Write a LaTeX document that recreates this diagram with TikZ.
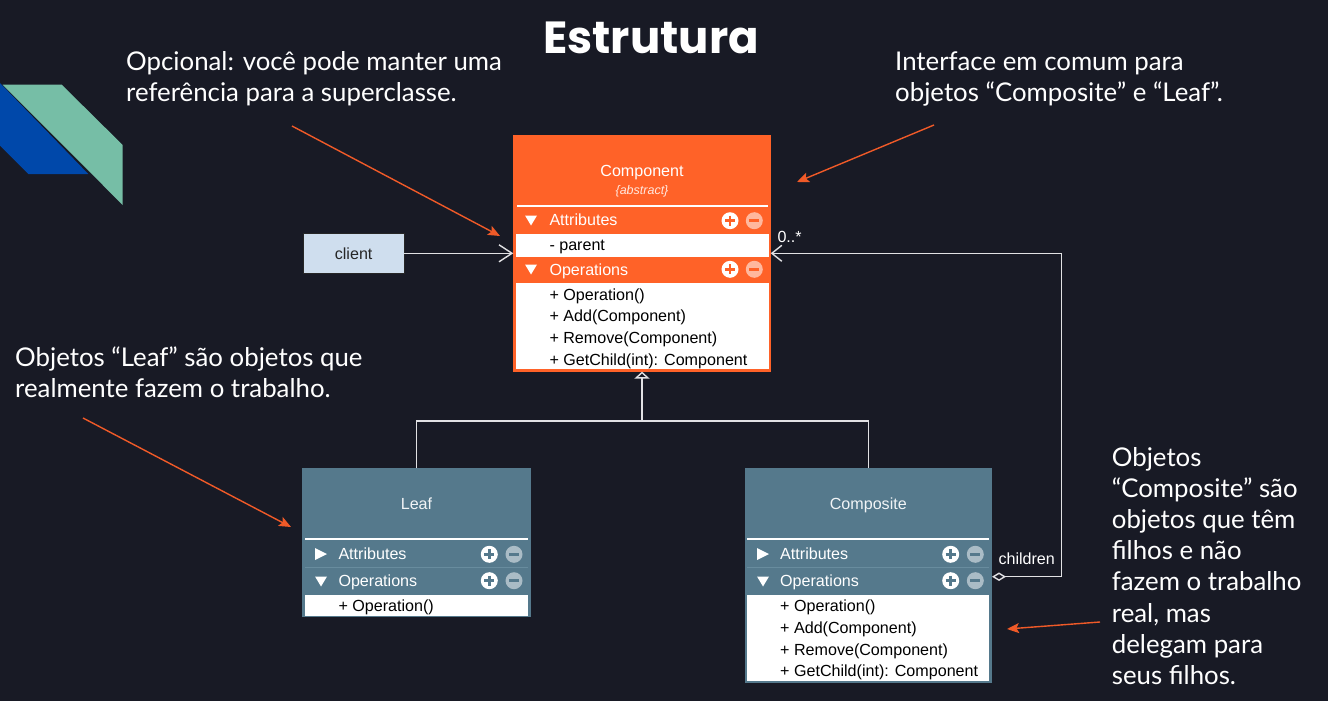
\documentclass[tikz,border=0pt]{standalone}
\usepackage{fontspec}
\setmainfont{Liberation Sans}
\newfontfamily\latof{Lato}
\newfontfamily\titlef{Poppins}
\usetikzlibrary{arrows.meta}
\definecolor{bg}{RGB}{24,26,37}
\definecolor{compor}{RGB}{255,98,40}
\definecolor{slate}{RGB}{85,121,140}
\definecolor{slatediv}{RGB}{104,140,158}
\definecolor{clientc}{RGB}{207,222,238}
\definecolor{annor}{RGB}{240,90,40}
\definecolor{logob}{RGB}{0,72,170}
\definecolor{logog}{RGB}{118,190,166}
\definecolor{wl}{RGB}{225,225,228}
\newcommand\pmicons[5]{%
  \fill[white] (#1,#3) circle (8.5);
  \draw[#5, line width=2.6pt] (#1-5,#3) -- (#1+5,#3) (#1,#3-5) -- (#1,#3+5);
  \fill[#4] (#2,#3) circle (8.5);
  \draw[#5, line width=2.6pt] (#2-5,#3) -- (#2+5,#3);
}
\newcommand\dtri[2]{\fill[white] (#1-6,#2-5) -- (#1+6,#2-5) -- (#1,#2+5) -- cycle;}
\newcommand\rtri[2]{\fill[white] (#1-6,#2-6) -- (#1+6,#2) -- (#1-6,#2+6) -- cycle;}
\begin{document}
\begin{tikzpicture}[x=1pt,y=-1pt,
  ann/.style={font=\latof\fontsize{25.8}{31}\selectfont, text=white, inner sep=0, anchor=base west},
  umltxt/.style={font=\fontsize{16.1}{19}\selectfont, inner sep=0, anchor=base west},
  annarrow/.style={draw=annor, line width=1.4pt, -{Stealth[length=12pt,width=10pt,inset=2.5pt]}},
  wline/.style={draw=wl, line width=1.4pt},
  boxnode/.style={inner sep=0, outer sep=0, anchor=north west}]
\useasboundingbox (0,0) rectangle (1328,701);
\fill[bg] (0,0) rectangle (1328,701);

% logo
\fill[logob] (0,83) -- (88.3,174) -- (28.3,174) -- (0,145.5) -- cycle;
\fill[logog] (2.7,84.7) -- (61.7,84.7) -- (122.7,145) -- (122.7,205) -- cycle;

% title
\node[font=\titlef\bfseries\fontsize{45}{54}\selectfont, text=white, inner sep=0, anchor=base] (title) at (651,54) {Estrutura};

% annotations
\node[ann] (a1l1) at (126,70.7) {Opcional: você pode manter uma};
\node[ann] (a1l2) at (126,101.7) {referência para a superclasse.};
\node[ann] (a2l1) at (895,70.7) {Interface em comum para};
\node[ann] (a2l2) at (895,101.7) {objetos “Composite” e “Leaf”.};
\node[ann] (a3l1) at (15,366) {Objetos “Leaf” são objetos que};
\node[ann] (a3l2) at (15,397) {realmente fazem o trabalho.};
\node[ann] (a4l1) at (1111.7,466) {Objetos};
\node[ann] (a4l2) at (1111.7,497.2) {“Composite” são};
\node[ann] (a4l3) at (1111.7,528.4) {objetos que têm};
\node[ann] (a4l4) at (1111.7,559.6) {filhos e não};
\node[ann] (a4l5) at (1111.7,590.8) {fazem o trabalho};
\node[ann] (a4l6) at (1111.7,622) {real, mas};
\node[ann] (a4l7) at (1111.7,653.2) {delegam para};
\node[ann] (a4l8) at (1111.7,684.4) {seus filhos.};

% Component
\node[boxnode, fill=compor, minimum width=257.4pt, minimum height=236.6pt] (comp) at (513.3,135) {};
\fill[white] (516.7,205.2) rectangle (768,207.2);
\fill[white] (516,234.3) rectangle (768.5,256.5);
\fill[white] (516,283.3) rectangle (768.5,369.3);
\node[umltxt, text=white, anchor=base] (ctitle) at (642,176) {Component};
\node[font=\itshape\fontsize{12.5}{14}\selectfont, text=white!85!compor, anchor=base, inner sep=0] (cabs) at (642,194.3) {\{abstract\}};
\dtri{531}{220.5}
\node[umltxt, text=white] (catt) at (549.3,225.7) {Attributes};
\pmicons{730}{754.3}{220.7}{white!55!compor}{compor}
\node[umltxt] (cpar) at (549.3,250.7) {- parent};
\dtri{531}{269.5}
\node[umltxt, text=white] (cops) at (549.3,275.5) {Operations};
\pmicons{730}{754.3}{269.3}{white!55!compor}{compor}
\node[umltxt] (co1) at (549.3,300) {+ Operation()};
\node[umltxt] (co2) at (549.3,321.7) {+ Add(Component)};
\node[umltxt] (co3) at (549.3,343.3) {+ Remove(Component)};
\node[umltxt] (co4) at (549.3,365) {+ GetChild(int): Component};

% client
\node[boxnode, draw=black!85, fill=clientc, minimum width=100.7pt, minimum height=40pt, font=\fontsize{16.1}{19}\selectfont, text=black!85] (client) at (303.3,233.3) {client};

% Leaf
\node[boxnode, fill=slate, minimum width=228.4pt, minimum height=149pt] (leaf) at (302.3,468.3) {};
\fill[white] (305,538.2) rectangle (528.3,540.2);
\draw[slatediv, line width=0.8pt] (305,567.3) -- (528.3,567.3);
\fill[white] (305,595) rectangle (528.3,615.7);
\node[umltxt, text=white!92!slate, anchor=base] (ltitle) at (416.5,509.3) {Leaf};
\rtri{321}{554}
\node[umltxt, text=white] (latt) at (338.3,559.3) {Attributes};
\pmicons{489.3}{514}{554.3}{white!50!slate}{slate}
\dtri{321}{581.5}
\node[umltxt, text=white] (lops) at (338.3,586.7) {Operations};
\pmicons{489.3}{514}{580.7}{white!50!slate}{slate}
\node[umltxt] (lo1) at (338.3,611) {+ Operation()};

% Composite
\node[boxnode, fill=slate, minimum width=247.3pt, minimum height=214.4pt] (compo) at (744.7,468.3) {};
\fill[white] (747.3,538.2) rectangle (989.3,540.2);
\draw[slatediv, line width=0.8pt] (747.3,567.3) -- (989.3,567.3);
\fill[white] (747.3,595) rectangle (989.3,680.7);
\node[umltxt, text=white!92!slate, anchor=base] (ptitle) at (868.3,509.3) {Composite};
\rtri{763}{554}
\node[umltxt, text=white] (patt) at (780,559.3) {Attributes};
\pmicons{950.7}{975.3}{554.3}{white!50!slate}{slate}
\dtri{763}{581.5}
\node[umltxt, text=white] (pops) at (780,586.7) {Operations};
\pmicons{950.7}{975.3}{580.7}{white!50!slate}{slate}
\node[umltxt] (po1) at (780,611.7) {+ Operation()};
\node[umltxt] (po2) at (780,633.3) {+ Add(Component)};
\node[umltxt] (po3) at (780,655) {+ Remove(Component)};
\node[umltxt] (po4) at (780,676.7) {+ GetChild(int): Component};

% connectors
\draw[wline, -{Straight Barb[length=13pt,width=17pt]}] (client.east) -- (client.east -| comp.west);
\coordinate (junc) at (642,421);
\draw[wline] (leaf.north) -- (leaf.north |- junc) -- (compo.north |- junc) -- (compo.north);
\draw[wline, -{Triangle[length=7pt,width=15pt,fill=bg]}] (junc) -- (comp.south);
\coordinate (ch1) at (1061.5,576.7);
\coordinate (ch2) at (1061.5,253.3);
\draw[wline, {Diamond[length=14pt,width=8.5pt,fill=bg]}-{Straight Barb[length=10pt,width=16pt]}] (compo.east |- ch1) -- (ch1) -- (ch2) -- (comp.east |- ch2);
\node[umltxt, text=white] (mult) at (777.3,242.7) {0..*};
\node[umltxt, text=white] (chl) at (998.3,564) {children};

% annotation arrows
\coordinate (t1) at (292,126);  \coordinate (h1) at (500,236);
\coordinate (t2) at (934,125);  \coordinate (h2) at (797,182);
\coordinate (t3) at (83,418);   \coordinate (h3) at (291,527);
\coordinate (t4) at (1100,622); \coordinate (h4) at (1007,629);
\draw[annarrow] (t1) -- (h1);
\draw[annarrow] (t2) -- (h2);
\draw[annarrow] (t3) -- (h3);
\draw[annarrow] (t4) -- (h4);
\end{tikzpicture}
\end{document}
